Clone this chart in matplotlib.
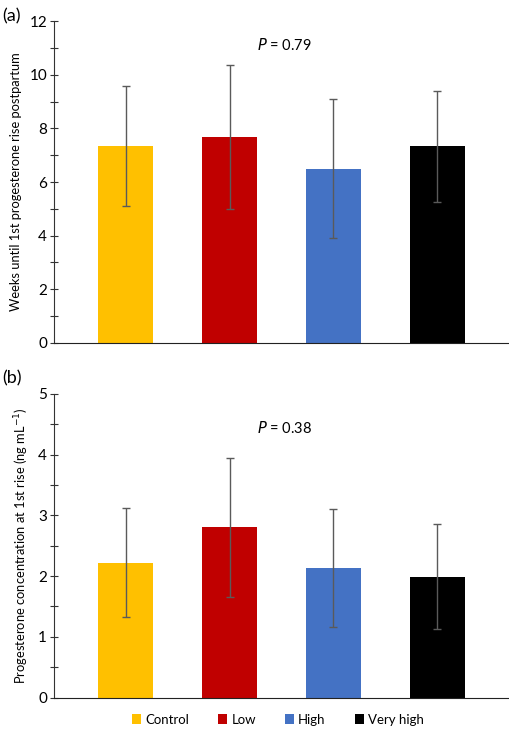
import matplotlib
matplotlib.use("Agg")
import matplotlib.pyplot as plt
from matplotlib.patches import Patch
import numpy as np

categories = ["Control", "Low", "High", "Very high"]
colors = ["#FFC000", "#C00000", "#4472C4", "#000000"]

weeks_mean = [7.33, 7.67, 6.50, 7.33]
weeks_sd = [2.24, 2.68, 2.58, 2.07]
p_weeks = "0.79"

conc_mean = [2.22, 2.80, 2.13, 1.99]
conc_sd = [0.90, 1.15, 0.97, 0.86]
p_conc = "0.38"

plt.rcParams['font.family'] = ['Lato', 'DejaVu Sans']

fig = plt.figure(figsize=(5.10, 7.31), dpi=100)
ax1 = fig.add_axes([0.106, 0.531, 0.890, 0.440])
ax2 = fig.add_axes([0.106, 0.0456, 0.890, 0.4158])

x = np.arange(len(categories))

def draw(ax, means, sds, ymax, major, minor, ylabel, ptxt, py):
    ax.bar(x, means, width=0.53, color=colors, zorder=2)
    ax.errorbar(x, means, yerr=sds, fmt='none', ecolor='#5a5a5a', elinewidth=1.0,
                capsize=3, capthick=1.0, zorder=3)
    ax.set_xlim(-0.69, 3.68)
    ax.set_ylim(0, ymax)
    ax.set_yticks(np.arange(0, ymax + 0.001, major))
    ax.set_yticks(np.arange(0, ymax + 0.001, minor), minor=True)
    ax.set_yticklabels([f"{v:g}" for v in np.arange(0, ymax + 0.001, major)], fontsize=11)
    ax.tick_params(axis='y', which='both', direction='inout', length=6, width=0.8, color='#333333', pad=2)
    ax.set_xticks([])
    for s in ['top', 'right']:
        ax.spines[s].set_visible(False)
    ax.spines['left'].set_color('#333333')
    ax.spines['bottom'].set_color('#222222')
    ax.set_ylabel(ylabel, fontsize=9.3, labelpad=5)
    ax.text(1.53, py, r"$\it{P}$ = " + ptxt, ha='center', va='center', fontsize=10.5)

draw(ax1, weeks_mean, weeks_sd, 12, 2, 1, "Weeks until 1st progesterone rise postpartum",
     p_weeks, 11.1)
draw(ax2, conc_mean, conc_sd, 5, 1, 0.5, r"Progesterone concentration at 1st rise (ng mL$^{-1}$)",
     p_conc, 4.44)

fig.text(0.004, 1 - 16 / 731, "(a)", fontsize=13, ha='left', va='center')
fig.text(0.004, 1 - 378 / 731, "(b)", fontsize=13, ha='left', va='center')

handles = [Patch(facecolor=c, edgecolor='none') for c in colors]
fig.legend(handles, categories, loc='center', bbox_to_anchor=(0.545, 0.0155), ncol=4,
           frameon=False, fontsize=9.5, handlelength=0.7, handleheight=0.7,
           handletextpad=0.3, columnspacing=2.2)

fig.savefig("out.png", dpi=100)
